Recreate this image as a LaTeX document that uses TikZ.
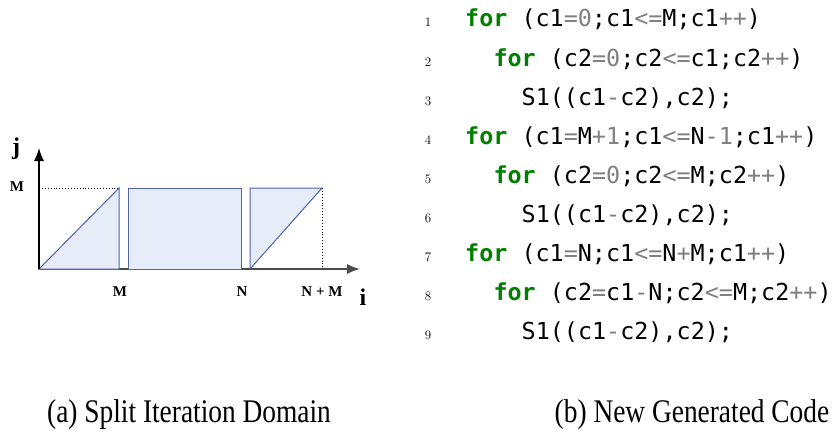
\documentclass[tikz,border=0pt]{standalone}
\usepackage{fontspec}
\usepackage{graphicx}
\usetikzlibrary{arrows.meta}
\newfontfamily\codefont{DejaVu Sans Mono}
\newfontfamily\capfont{Liberation Serif}
\definecolor{kwgreen}{RGB}{0,128,0}
\definecolor{opgray}{RGB}{128,128,128}
\definecolor{dfill}{RGB}{230,236,248}
\definecolor{dline}{RGB}{80,100,170}
\newcommand{\kw}[1]{\textcolor{kwgreen}{\bfseries #1}}
\newcommand{\op}[1]{\textcolor{opgray}{#1}}
\tikzset{
  dshape/.style={draw=dline, fill=dfill, line width=1pt, line join=miter},
  axisline/.style={line width=1.4pt, -{Latex[length=13pt,width=10pt]}},
  guide/.style={line width=0.9pt, dotted},
  axlabel/.style={inner sep=0pt, anchor=base, font=\capfont\bfseries\fontsize{15}{15}\selectfont},
  axname/.style={inner sep=0pt, anchor=base, font=\capfont\bfseries\fontsize{24}{24}\selectfont},
  codeline/.style={inner sep=0pt, anchor=base west, font=\codefont\fontsize{23.4}{23.4}\selectfont},
  lineno/.style={inner sep=0pt, anchor=base, font=\fontsize{13}{13}\selectfont},
  caption/.style={inner sep=0pt, anchor=base, font=\capfont\fontsize{33}{33}\selectfont}
}
\begin{document}
\begin{tikzpicture}[x=1pt,y=-1pt]
\useasboundingbox (0,0) rectangle (832,431);
% axes coordinates
\coordinate (O) at (39,269);
\coordinate (Xend) at (360,269);
\coordinate (Yend) at (39,148);
\coordinate (Mleft) at (39,188);
\coordinate (Mtop) at (119,188);
\coordinate (Mbot) at (119,269);
\coordinate (NMtop) at (322,188);
\coordinate (NMbot) at (322,269);
% x axis (under the shapes)
\draw[axisline, black!70] (O) -- (Xend);
% domain pieces
\draw[dshape] (O) -- (Mtop) -- (Mbot) -- cycle;
\draw[dshape] (128,188) rectangle (241,269);
\draw[dshape] (250,269) -- (250,188) -- (NMtop) -- cycle;
% guides
\draw[guide] (Mleft) -- (Mtop);
\draw[guide] (NMtop) -- (NMbot);
% y axis
\draw[axisline, black] (O) -- (Yend);
% axis labels
\node[axname] (jlab) at (16,154) {j};
\node[axname] (ilab) at (363,305) {i};
\node[axlabel] (mleftlab) at (17,191) {M};
\node[axlabel] (mlab) at (120,296) {M};
\node[axlabel] (nlab) at (242,296) {N};
\node[axlabel] (nmlab) at (322,296) {N + M};
% code line numbers
\foreach \k in {1,...,9}{
  \node[lineno] (ln\k) at (428,{27+(\k-1)*39.1}) {\oldstylenums{\k}};
}
% code
\node[codeline] (c1) at (465,27) {\kw{for} (c1\op{=}\op{0};c1\op{<=}M;c1\op{++})};
\node[codeline] (c2) at (493.3,66.1) {\kw{for} (c2\op{=}\op{0};c2\op{<=}c1;c2\op{++})};
\node[codeline] (c3) at (521.5,105.2) {S1((c1\op{-}c2),c2);};
\node[codeline] (c4) at (465,144.3) {\kw{for} (c1\op{=}M\op{+1};c1\op{<=}N\op{-1};c1\op{++})};
\node[codeline] (c5) at (493.3,183.4) {\kw{for} (c2\op{=}\op{0};c2\op{<=}M;c2\op{++})};
\node[codeline] (c6) at (521.5,222.5) {S1((c1\op{-}c2),c2);};
\node[codeline] (c7) at (465,261.6) {\kw{for} (c1\op{=}N;c1\op{<=}N\op{+}M;c1\op{++})};
\node[codeline] (c8) at (493.3,300.7) {\kw{for} (c2\op{=}c1\op{-}N;c2\op{<=}M;c2\op{++})};
\node[codeline] (c9) at (521.5,339.8) {S1((c1\op{-}c2),c2);};
% captions
\node[caption] (capa) at (189,422) {\scalebox{0.83}[1]{(a) Split Iteration Domain}};
\node[caption] (capb) at (692,422) {\scalebox{0.83}[1]{(b) New Generated Code}};
\end{tikzpicture}
\end{document}
